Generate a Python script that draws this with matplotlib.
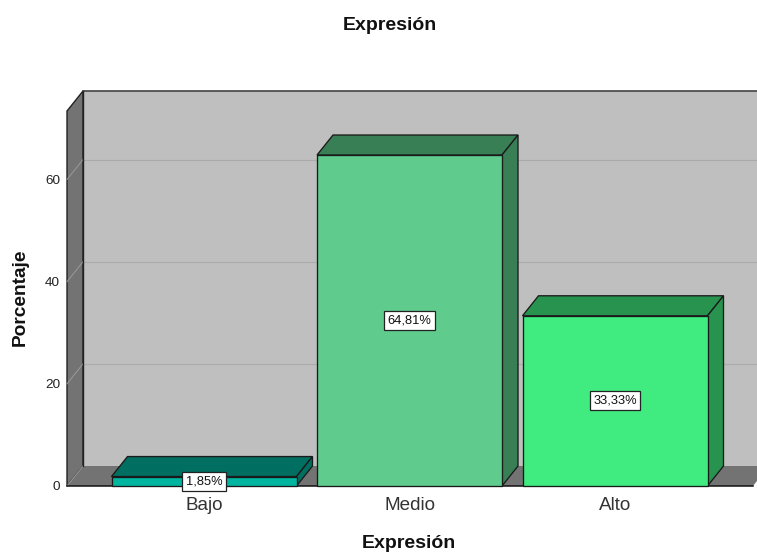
import matplotlib
matplotlib.use('Agg')
import matplotlib.pyplot as plt
from matplotlib.patches import Polygon

plt.rcParams['font.family'] = ['Liberation Sans', 'DejaVu Sans']

categorias = ['Bajo', 'Medio', 'Alto']
porcentajes = [1.85, 64.81, 33.33]
etiquetas = ['1,85%', '64,81%', '33,33%']
yticks = [0, 20, 40, 60]
col_frente = ['#00B5A0', '#5FCB8C', '#40EB7F']
col_lado = ['#006E60', '#397F56', '#27934F']

fig = plt.figure(figsize=(7.57, 5.52), dpi=100)
W, H = 757.0, 552.0
# front plane of the 3D box
ax = fig.add_axes([67 / W, (H - 486) / H, (W - 67) / W, (486 - 111) / H])
ppx = 205.5                   # px per category
ppy = 5.107                   # px per percent unit
xmin = (67 - 204) / ppx
xmax = (W - 204) / ppx
ymax = 375 / ppy
ax.set_xlim(xmin, xmax)
ax.set_ylim(0, ymax)
dx = 16 / ppx                 # depth offset
dy = 20 / ppy
ancho = 185 / ppx
xfin = (753 - 204) / ppx      # right end of the floor


def poly(pts, fc, ec='none', lw=0, z=1):
    ax.add_patch(Polygon(pts, closed=True, facecolor=fc, edgecolor=ec, linewidth=lw,
                         zorder=z, clip_on=False, joinstyle='miter'))


# back wall, left wall, floor
poly([(xmin + dx, dy), (xmax + dx, dy), (xmax + dx, ymax + dy), (xmin + dx, ymax + dy)], '#BFBFBF')
poly([(xmin, 0), (xmin + dx, dy), (xmin + dx, ymax + dy), (xmin, ymax)], '#737373', '#222222', 1.0, 2)
poly([(xmin, 0), (xfin, 0), (xfin + dx, dy), (xmin + dx, dy)], '#737373', z=2)
ax.plot([xmin + dx, xmax], [ymax + dy, ymax + dy], color='#444444', lw=1.2, zorder=3, clip_on=False)
ax.plot([xmin + dx, xmin + dx], [dy, ymax + dy], color='#222222', lw=1.0, zorder=3, clip_on=False)
ax.plot([xmin, xfin], [0, 0], color='#111111', lw=1.1, zorder=3, clip_on=False)

# gridlines on the wall
for t in yticks[1:]:
    ax.plot([xmin + dx, xmax], [t + dy, t + dy], color='#ABABAB', lw=0.8, zorder=1.5, clip_on=False)
    ax.plot([xmin, xmin + dx], [t, t + dy], color='#9a9a9a', lw=0.7, zorder=2.5, clip_on=False)
ax.plot([xmin, xmin + dx], [0, dy], color='#9a9a9a', lw=0.7, zorder=2.5, clip_on=False)

# bars
for i, v in enumerate(porcentajes):
    x0 = i - ancho / 2
    x1 = i + ancho / 2
    poly([(x0, v), (x1, v), (x1 + dx, v + dy), (x0 + dx, v + dy)], col_lado[i], '#1a1a1a', 0.95, 4)
    poly([(x1, 0), (x1 + dx, dy), (x1 + dx, v + dy), (x1, v)], col_lado[i], '#1a1a1a', 0.95, 4)
    poly([(x0, 0), (x1, 0), (x1, v), (x0, v)], col_frente[i], '#1a1a1a', 0.95, 5)
    ax.text(i, v / 2, etiquetas[i], ha='center', va='center', fontsize=9.3, color='#111111', zorder=6,
            bbox=dict(boxstyle='square,pad=0.27', facecolor='white', edgecolor='#222222', linewidth=0.9))

ax.patch.set_visible(False)
for s in ax.spines.values():
    s.set_visible(False)
ax.set_xticks(range(len(categorias)))
ax.set_xticklabels(categorias, fontsize=13.6, color='#333333')
ax.set_yticks(yticks)
ax.set_yticklabels([str(t) for t in yticks], fontsize=9.7, color='#222222')
ax.tick_params(axis='both', length=0)
ax.tick_params(axis='x', pad=8)
ax.tick_params(axis='y', pad=5)

fig.text(389.5 / W, 1 - 26 / H, 'Expresión', ha='center', va='center', fontsize=14, fontweight='bold', color='#111111')
fig.text(409 / W, 1 - 544 / H, 'Expresión', ha='center', va='center', fontsize=14, fontweight='bold', color='#111111')
fig.text(20 / W, 1 - 297 / H, 'Porcentaje', ha='center', va='center', rotation=90, fontsize=13.8, fontweight='bold', color='#111111')

fig.savefig('out.png', dpi=100)
